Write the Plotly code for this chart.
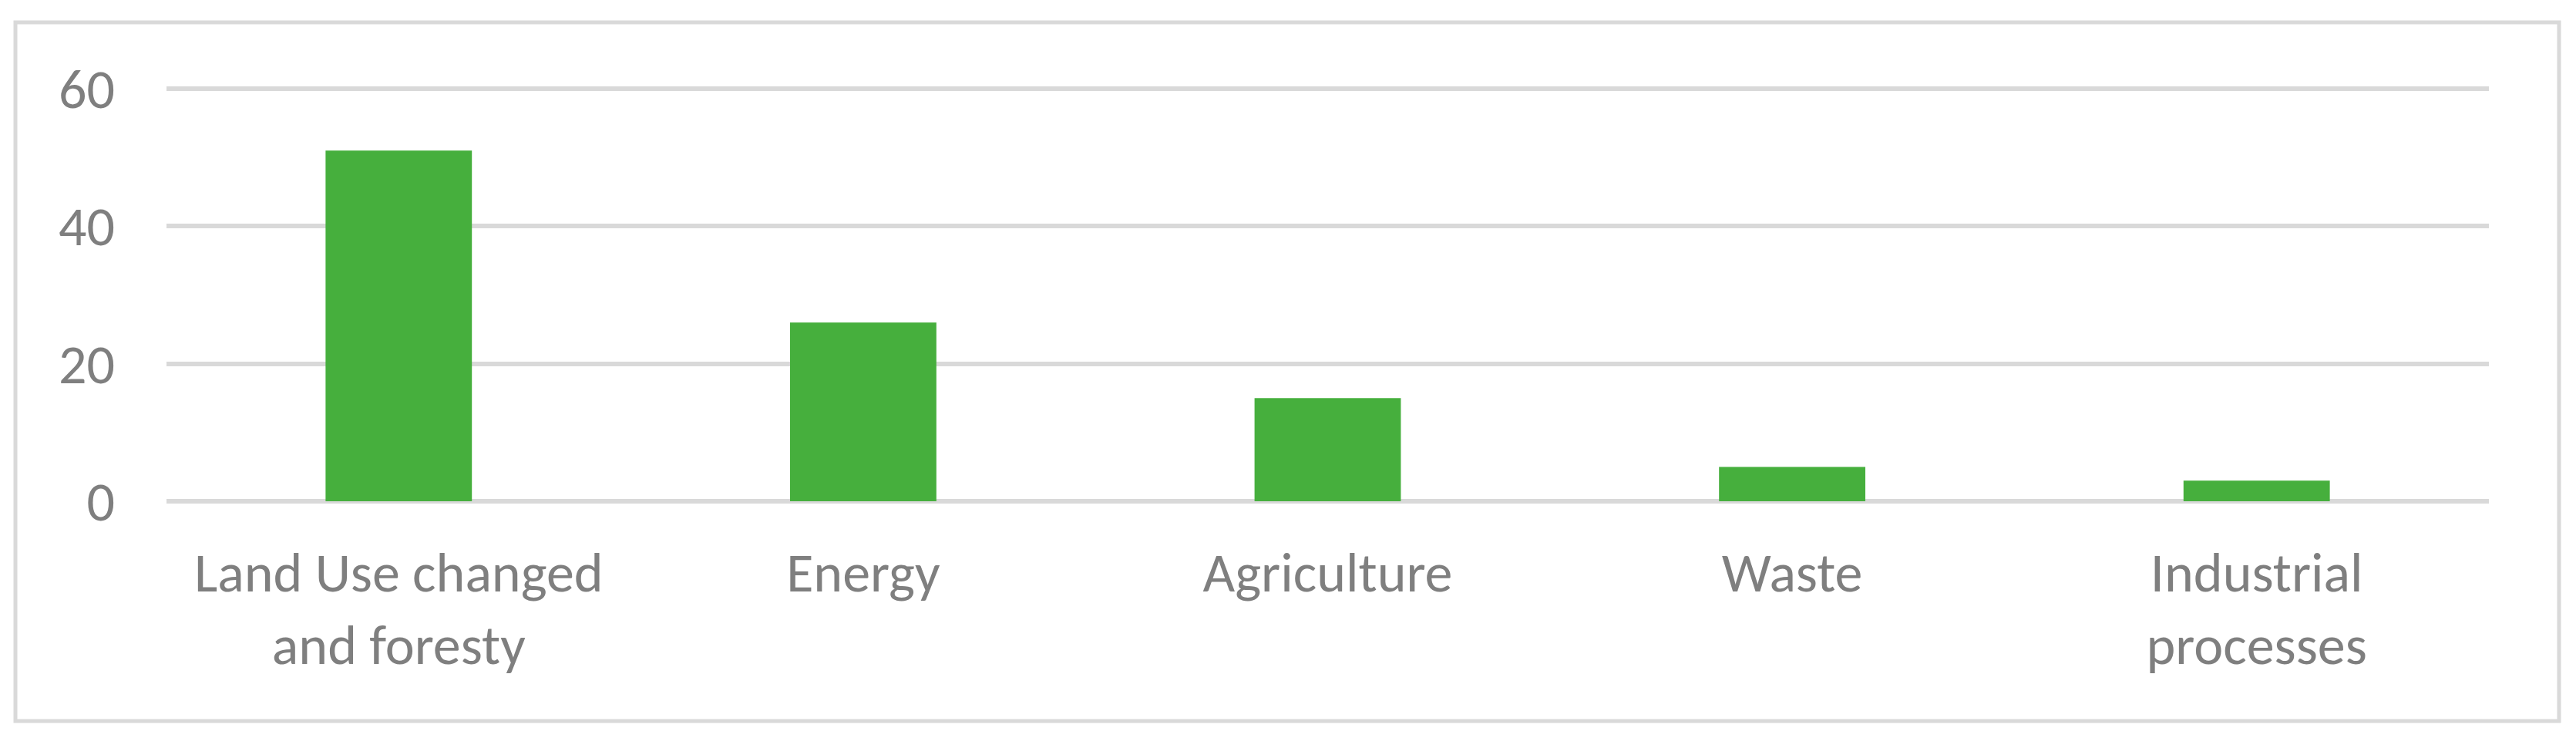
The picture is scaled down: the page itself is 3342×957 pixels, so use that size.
import plotly.graph_objects as go

categories = ["Land Use changed<br>and foresty", "Energy", "Agriculture", "Waste", "Industrial<br>processes"]
values = [51, 26, 15, 5, 3]
y_ticks = [0, 20, 40, 60]
y_max = 61

# the page body has an 8px margin, so work in page pixels minus 8
OFF = 8
W, H = 3342 - 2 * OFF, 957 - 2 * OFF
PX_PER_UNIT = (650 - 115) / 60
L = 216 - OFF
T = round(115 - (y_max - 60) * PX_PER_UNIT) - OFF
R = 3342 - 3229 - OFF
B = H - (650 - OFF)
GRAY = "#7f7f7f"
GRID = "#d9d9d9"
FONT = "Calibri, Carlito, Lato, sans-serif"


def px2paper(x, y):
    # page pixel -> paper coords of the plot area
    pw = W - L - R
    ph = H - T - B
    return (x - OFF - L) / pw, (H - B - (y - OFF)) / ph


bars = go.Bar(
    x=categories,
    y=values,
    marker=dict(color="#46af3d", line=dict(width=0)),
    hoverinfo="x+y",
)

fig = go.Figure(data=[bars])

x0, y0 = px2paper(20, 935)
x1, y1 = px2paper(3320, 29)

fig.update_layout(
    width=W,
    height=H,
    margin=dict(l=L, r=R, t=T, b=B),
    paper_bgcolor="white",
    plot_bgcolor="white",
    showlegend=False,
    bargap=0.685,
    font=dict(family=FONT, color=GRAY, size=72),
    xaxis=dict(
        showgrid=False,
        zeroline=False,
        showline=False,
        ticks="",
        tickfont=dict(size=72, color=GRAY),
        ticklabelstandoff=44,
    ),
    yaxis=dict(
        range=[0, y_max],
        tickvals=y_ticks,
        showgrid=True,
        gridcolor=GRID,
        gridwidth=6,
        zeroline=True,
        zerolinecolor=GRID,
        zerolinewidth=6,
        showline=False,
        ticks="",
        tickfont=dict(size=72, color=GRAY),
        ticklabelstandoff=66,
    ),
    shapes=[
        dict(
            type="rect",
            xref="paper",
            yref="paper",
            x0=x0,
            x1=x1,
            y0=y0,
            y1=y1,
            line=dict(color=GRID, width=5),
            layer="below",
        )
    ],
)

fig.write_html("out.html")
